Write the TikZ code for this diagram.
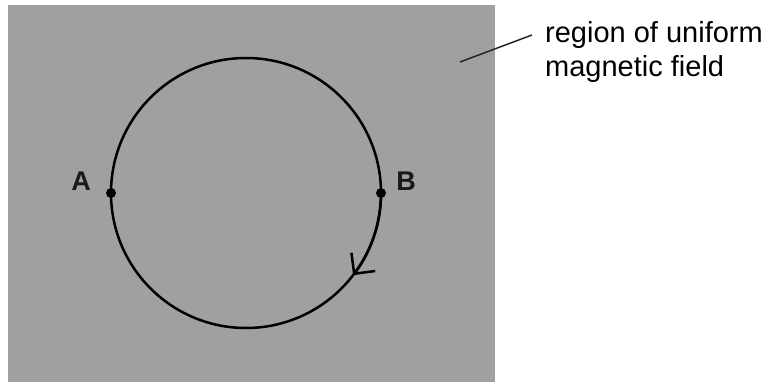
\documentclass[tikz,border=0pt]{standalone}
\usepackage{fontspec}
\setmainfont{Liberation Sans}
\usetikzlibrary{arrows.meta}
\definecolor{fieldgrey}{HTML}{A0A0A0}
\begin{document}
\begin{tikzpicture}[x=1pt,y=-1pt,
  orbit/.style={line width=2.5pt,black},
  ptlabel/.style={font=\fontsize{27}{30}\selectfont\bfseries,inner sep=0pt,text=black!90},
  dotpt/.style={circle,fill=black,inner sep=0pt,minimum size=10pt},
  caption/.style={font=\fontsize{29}{34}\selectfont,inner sep=0pt,anchor=base west,text=black},
  pointer/.style={line width=1.5pt,black!85}]
\useasboundingbox (0,0) rectangle (771,382);
\fill[fieldgrey] (8,5) rectangle (495,382);
\coordinate (O) at (246,193);
\draw[orbit] (O) circle[radius=135pt];
\draw[orbit,-{Straight Barb[length=15pt,width=30pt]}] ([shift={(0:135pt)}]O) arc[start angle=0,end angle=-37.5,radius=135pt];
\node[dotpt] (A) at (111,193) {};
\node[dotpt] (B) at (381,193) {};
\node[ptlabel] (la) at (81,181) {A};
\node[ptlabel] (lb) at (406,181) {B};
\node[caption] (t1) at (545,43) {region of uniform};
\node[caption] (t2) at (545,77) {magnetic field};
\coordinate (p1) at (460,62);
\coordinate (p2) at (532,35);
\draw[pointer] (p1) -- (p2);
\end{tikzpicture}
\end{document}
